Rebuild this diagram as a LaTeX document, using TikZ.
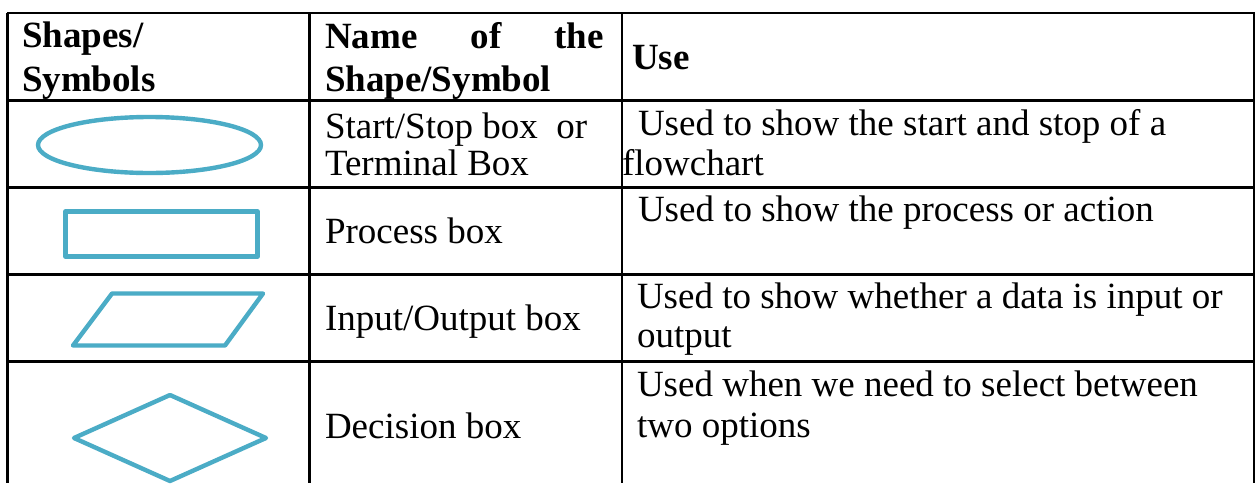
\documentclass[tikz,border=0pt]{standalone}
\usepackage{fontspec}
\setmainfont{Liberation Serif}
\definecolor{symblue}{HTML}{4BACC6}
\tikzset{
  grid/.style={line width=2.6pt, black},
  symbol/.style={line width=4.4pt, symblue, line join=round},
  cell/.style={anchor=base west, inner sep=0pt, outer sep=0pt,
    font=\fontsize{37}{40}\selectfont},
  headcell/.style={cell, font=\fontsize{37}{40}\selectfont\bfseries},
}
\begin{document}
\begin{tikzpicture}[x=1pt,y=-1pt]
  \useasboundingbox (0,0) rectangle (1259,483);
  \fill[white] (0,0) rectangle (1259,483);

  % table rules
  \draw[grid] (7,13) -- (1255,13);
  \draw[grid] (7,100.5) -- (1255,100.5);
  \draw[grid] (7,187.5) -- (1255,187.5);
  \draw[grid] (7,274.5) -- (1255,274.5);
  \draw[grid] (7,361.5) -- (1255,361.5);
  \draw[grid] (7.5,13) -- (7.5,483);
  \draw[grid] (309.5,13) -- (309.5,483);
  \draw[grid] (622,13) -- (622,483);
  \draw[grid] (1254,13) -- (1254,483);

  % header row
  \node[headcell] (h1a) at (22,47) {Shapes/};
  \node[headcell] (h1b) at (22,91) {Symbols};
  \node[headcell] (h2a) at (325,48) {\makebox[279pt][s]{Name of the}};
  \node[headcell] (h2b) at (325,91) {Shape/Symbol};
  \node[headcell] (h3) at (632,69) {Use};

  % symbols
  \draw[symbol] (149.5,145) ellipse [x radius=111.5, y radius=28];
  \draw[symbol] (65.5,211.5) rectangle (257.5,256.5);
  \draw[symbol] (112,293.5) -- (263,293.5) -- (225,345.5) -- (73,345.5) -- cycle;
  \draw[symbol] (170,395) -- (266,438) -- (170,481) -- (74,438) -- cycle;

  % names
  \node[cell] (n1a) at (325,138) {Start/Stop box\ \ or};
  \node[cell] (n1b) at (325,175) {Terminal Box};
  \node[cell] (n2) at (325,243) {Process box};
  \node[cell] (n3) at (325,330) {Input/Output box};
  \node[cell] (n4) at (325,438) {Decision box};

  % uses
  \node[cell] (u1a) at (638,135) {Used to show the start and stop of a};
  \node[cell] (u1b) at (622,175) {flowchart};
  \node[cell] (u2) at (638,221) {Used to show the process or action};
  \node[cell] (u3a) at (637,308) {Used to show whether a data is input or};
  \node[cell] (u3b) at (637,347) {output};
  \node[cell] (u4a) at (637,396) {Used when we need to select between};
  \node[cell] (u4b) at (637,437) {two options};
\end{tikzpicture}
\end{document}
